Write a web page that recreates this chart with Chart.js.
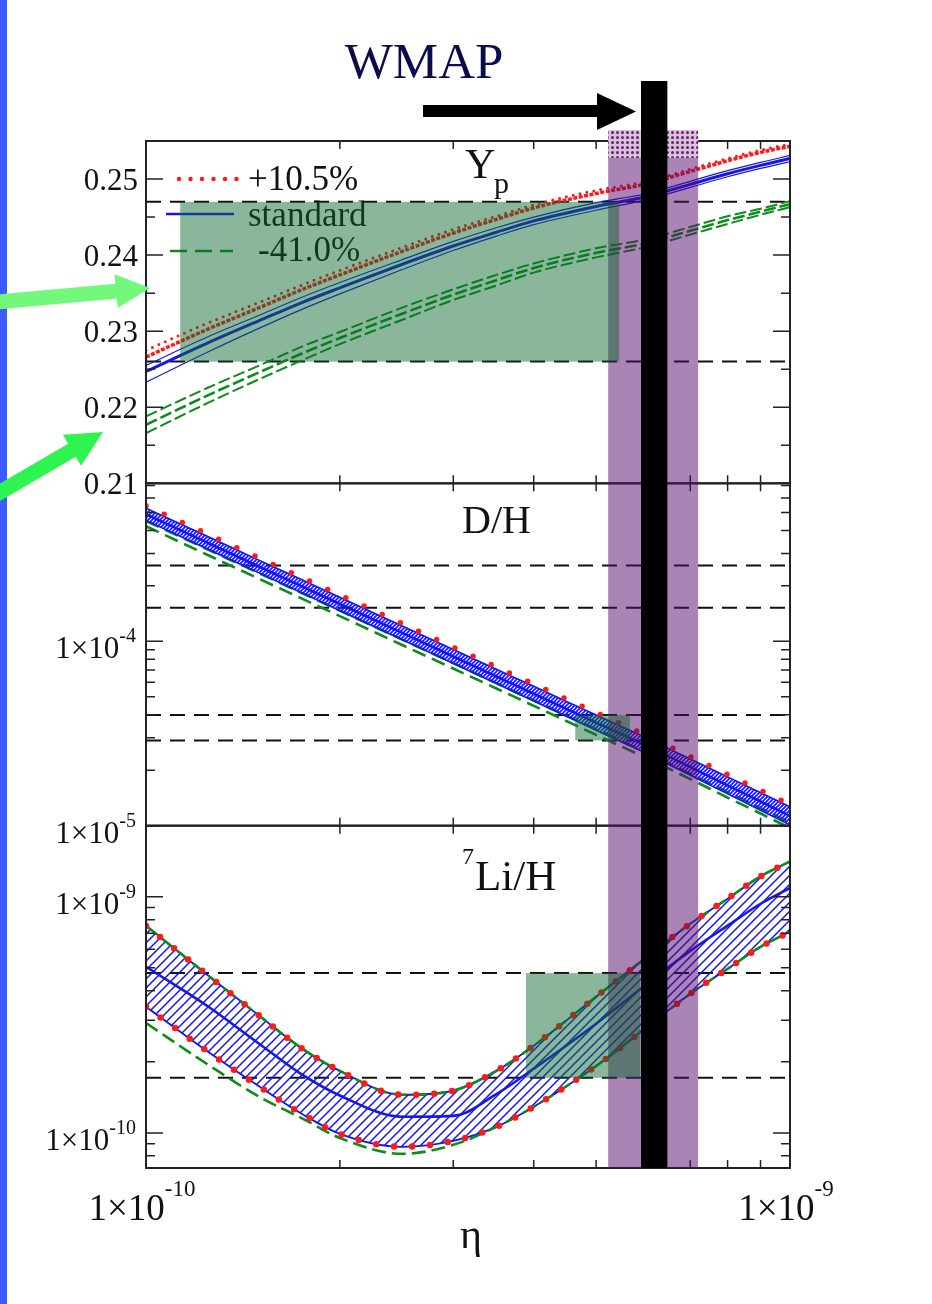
<!DOCTYPE html>
<html>
<head>
<meta charset="utf-8">
<script src="https://cdn.jsdelivr.net/npm/chart.js@4/dist/chart.umd.min.js"></script>
<style>
html, body { margin: 0; padding: 0; background: #fff; }
canvas { display: block; }
</style>
</head>
<body>
<canvas id="bbn" width="932" height="1304"></canvas>
<script>
// baryon-to-photon ratio grid
var eta = [1.0e-10, 1.25e-10, 1.5e-10, 1.75e-10, 2.0e-10, 2.5e-10, 3.0e-10, 3.5e-10, 4.0e-10, 5.0e-10, 6.0e-10, 7.0e-10, 8.0e-10, 9.0e-10, 1.0e-9];

// 4He mass fraction
var ypStd    = [0.2247, 0.2285, 0.2314, 0.2338, 0.2357, 0.2388, 0.2412, 0.2430, 0.2445, 0.2464, 0.2477, 0.2493, 0.2507, 0.2518, 0.2527];
var ypStdHi  = [0.2255, 0.2293, 0.2321, 0.2345, 0.2364, 0.2394, 0.2418, 0.2436, 0.2450, 0.2469, 0.2481, 0.2497, 0.2511, 0.2522, 0.2531];
var ypStdLo  = [0.2233, 0.2273, 0.2304, 0.2329, 0.2349, 0.2381, 0.2406, 0.2425, 0.2440, 0.2459, 0.2473, 0.2489, 0.2503, 0.2514, 0.2523];
var ypHigh   = [0.2266, 0.2303, 0.2331, 0.2355, 0.2374, 0.2405, 0.2429, 0.2447, 0.2462, 0.2481, 0.2494, 0.2510, 0.2524, 0.2535, 0.2543];
var ypHighUp = [0.2275, 0.2311, 0.2338, 0.2361, 0.2380, 0.2410, 0.2434, 0.2451, 0.2466, 0.2485, 0.2497, 0.2513, 0.2527, 0.2538, 0.2546];
var ypLow    = [0.2177, 0.2216, 0.2246, 0.2271, 0.2291, 0.2323, 0.2348, 0.2367, 0.2383, 0.2403, 0.2416, 0.2432, 0.2446, 0.2457, 0.2467];
var ypLowHi  = [0.2188, 0.2226, 0.2255, 0.2280, 0.2299, 0.2331, 0.2355, 0.2374, 0.2389, 0.2409, 0.2421, 0.2437, 0.2451, 0.2461, 0.2471];
var ypLowLo  = [0.2166, 0.2206, 0.2237, 0.2262, 0.2283, 0.2315, 0.2341, 0.2360, 0.2377, 0.2397, 0.2411, 0.2427, 0.2441, 0.2453, 0.2463];

// D/H
var dhStd   = [4.89e-4, 3.41e-4, 2.54e-4, 1.98e-4, 1.594e-4, 1.111e-4, 8.28e-5, 6.45e-5, 5.20e-5, 3.62e-5, 2.70e-5, 2.08e-5, 1.654e-5, 1.353e-5, 1.13e-5];
var dhHi    = [5.28e-4, 3.69e-4, 2.75e-4, 2.15e-4, 1.733e-4, 1.211e-4, 9.03e-5, 7.05e-5, 5.70e-5, 3.98e-5, 2.98e-5, 2.30e-5, 1.839e-5, 1.51e-5, 1.266e-5];
var dhLo    = [4.53e-4, 3.15e-4, 2.345e-4, 1.825e-4, 1.466e-4, 1.019e-4, 7.59e-5, 5.90e-5, 4.74e-5, 3.29e-5, 2.45e-5, 1.877e-5, 1.487e-5, 1.212e-5, 1.009e-5];
var dhHigh  = [5.44e-4, 3.80e-4, 2.83e-4, 2.21e-4, 1.785e-4, 1.247e-4, 9.30e-5, 7.26e-5, 5.87e-5, 4.10e-5, 3.07e-5, 2.37e-5, 1.894e-5, 1.555e-5, 1.304e-5];
var dhLowHi = [4.50e-4, 3.14e-4, 2.34e-4, 1.82e-4, 1.467e-4, 1.022e-4, 7.62e-5, 5.93e-5, 4.78e-5, 3.33e-5, 2.48e-5, 1.91e-5, 1.52e-5, 1.245e-5, 1.04e-5];
var dhLowLo = [4.21e-4, 2.93e-4, 2.18e-4, 1.70e-4, 1.371e-4, 9.55e-5, 7.12e-5, 5.55e-5, 4.47e-5, 3.11e-5, 2.32e-5, 1.79e-5, 1.42e-5, 1.164e-5, 9.7e-6];

// 7Li/H
var liStd   = [5.05e-10, 3.42e-10, 2.38e-10, 1.76e-10, 1.44e-10, 1.17e-10, 1.18e-10, 1.46e-10, 1.87e-10, 2.90e-10, 4.28e-10, 5.90e-10, 7.54e-10, 9.34e-10, 1.09e-9];
var liHi    = [7.54e-10, 4.63e-10, 3.13e-10, 2.27e-10, 1.83e-10, 1.45e-10, 1.51e-10, 1.83e-10, 2.34e-10, 3.77e-10, 5.57e-10, 7.68e-10, 9.81e-10, 1.22e-9, 1.41e-9];
var liLo    = [3.42e-10, 2.20e-10, 1.57e-10, 1.20e-10, 9.90e-11, 8.73e-11, 9.25e-11, 1.06e-10, 1.29e-10, 1.92e-10, 2.81e-10, 3.88e-10, 4.95e-10, 6.14e-10, 7.11e-10];
var liLowLo = [2.92e-10, 1.94e-10, 1.42e-10, 1.15e-10, 9.52e-11, 8.15e-11, 8.90e-11, 1.06e-10, 1.29e-10, 1.92e-10, 2.81e-10, 3.88e-10, 4.95e-10, 6.14e-10, 7.11e-10];

// observed abundances (dashed lines) and boxes
var ypObs = [0.226, 0.247];
var dhObs = [2.90e-5, 3.98e-5, 1.52e-4, 2.58e-4];
var liObs = [1.71e-10, 4.75e-10];
var ypBox = {eta: [1.13e-10, 5.43e-10], y: [0.226, 0.247]};
var dhBox = {eta: [4.64e-10, 5.64e-10], y: [2.90e-5, 3.98e-5]};
var liBox = {eta: [3.89e-10, 5.85e-10], y: [1.71e-10, 4.75e-10]};
var wmapBand = [5.22e-10, 7.20e-10];
var wmapLine = [5.87e-10, 6.45e-10];

// ticks
var ypMajor = [0.21, 0.22, 0.23, 0.24, 0.25];
var ypLabels = ['0.21', '0.22', '0.23', '0.24', '0.25'];
var ypMinor = [0.215, 0.225, 0.235, 0.245];
var dhMajor = [1e-5, 1e-4];
var dhExp = ['-5', '-4'];
var dhMinor = [2e-5, 3e-5, 4e-5, 5e-5, 6e-5, 7e-5, 8e-5, 9e-5, 2e-4, 3e-4, 4e-4, 5e-4, 6e-4, 7e-4];
var liMajor = [1e-10, 1e-9];
var liExp = ['-10', '-9'];
var liMinor = [8e-11, 9e-11, 2e-10, 3e-10, 4e-10, 5e-10, 6e-10, 7e-10, 8e-10, 9e-10, 2e-9];
var etaMajor = [1e-10, 1e-9];
var etaExp = ['-10', '-9'];
var etaMinor = [2e-10, 3e-10, 4e-10, 5e-10, 6e-10, 7e-10, 8e-10, 9e-10];
var legendLabels = ['+10.5%', 'standard', '-41.0%'];

var RED = '#ff1a1a', BLUE = '#1616e8', GREEN = '#0c8c18';
var SERIF = '"Liberation Serif", "Times New Roman", serif';

function hatch(color, gap, width) {
	var c = document.createElement('canvas')
	c.width = gap; c.height = gap
	var g = c.getContext('2d')
	g.strokeStyle = color
	g.lineWidth = width
	g.beginPath()
	g.moveTo(-gap, gap * 2); g.lineTo(gap * 2, -gap)
	g.moveTo(-gap, gap); g.lineTo(gap, -gap)
	g.moveTo(0, gap * 2); g.lineTo(gap * 2, 0)
	g.stroke()
	return g.createPattern(c, 'repeat')
}

function dotPattern() {
	var c = document.createElement('canvas')
	c.width = 5; c.height = 5
	var g = c.getContext('2d')
	g.fillStyle = '#d7c3da'
	g.fillRect(0, 0, 5, 5)
	g.fillStyle = '#6b2170'
	g.beginPath()
	g.arc(2.5, 2.5, 1.5, 0, Math.PI * 2)
	g.fill()
	return g.createPattern(c, 'repeat')
}

function curve(ys, axis, color, width, dash, extra) {
	var d = {
		data: eta.map(function(e, i) { return {x: e, y: ys[i]} }),
		yAxisID: axis,
		borderColor: color,
		borderWidth: width,
		borderDash: dash || [],
		borderCapStyle: 'butt',
		pointRadius: 0,
		fill: false,
		cubicInterpolationMode: 'monotone'
	}
	for (var k in extra) d[k] = extra[k]
	return d
}

var round = {borderCapStyle: 'round'}

var datasets = [
	// Li panel
	curve(liHi, 'li', RED, 6.5, [0, 18], round),
	curve(liLo, 'li', RED, 6.5, [0, 18], round),
	curve(liHi, 'li', GREEN, 2.6, [14, 6]),
	curve(liLowLo, 'li', GREEN, 2.6, [14, 6]),
	curve(liStd, 'li', BLUE, 2.6),
	curve(liHi, 'li', BLUE, 1.8, [], {fill: '+1', backgroundColor: hatch(BLUE, 9, 1.5)}),
	curve(liLo, 'li', BLUE, 1.8),
	// D/H panel
	curve(dhHigh, 'dh', RED, 5.5, [0, 20], round),
	curve(dhStd, 'dh', BLUE, 2.6),
	curve(dhHi, 'dh', BLUE, 1.6, [], {fill: '+1', backgroundColor: hatch(BLUE, 4, 1.6)}),
	curve(dhLo, 'dh', BLUE, 1.6),
	curve(dhLowHi, 'dh', GREEN, 2.6, [14, 7]),
	curve(dhLowLo, 'dh', GREEN, 2.6, [14, 7]),
	// Yp panel
	curve(ypHigh, 'yp', RED, 3.5, [4, 1.5]),
	curve(ypHighUp, 'yp', RED, 3, [0, 7], round),
	curve(ypStd, 'yp', BLUE, 3),
	curve(ypStdHi, 'yp', BLUE, 1.2),
	curve(ypStdLo, 'yp', BLUE, 1.2),
	curve(ypLow, 'yp', GREEN, 2.6, [12, 4]),
	curve(ypLowHi, 'yp', GREEN, 2, [12, 4]),
	curve(ypLowLo, 'yp', GREEN, 2, [12, 4])
]

function hline(ctx, area, y) {
	ctx.beginPath()
	ctx.moveTo(area.left, y)
	ctx.lineTo(area.right, y)
	ctx.stroke()
}

function box(ctx, xs, sc, b) {
	var x0 = xs.getPixelForValue(b.eta[0]), x1 = xs.getPixelForValue(b.eta[1])
	var y0 = sc.getPixelForValue(b.y[1]), y1 = sc.getPixelForValue(b.y[0])
	ctx.fillStyle = 'rgba(10, 105, 45, 0.48)'
	ctx.fillRect(x0, y0, x1 - x0, y1 - y0)
}

function frame(ctx, area, xs, sc, major, minor) {
	ctx.strokeStyle = '#222'
	ctx.lineWidth = 2
	ctx.setLineDash([])
	ctx.strokeRect(area.left, sc.top, area.right - area.left, sc.bottom - sc.top)
	ctx.lineWidth = 1.5
	ctx.beginPath()
	major.forEach(function(v) {
		var y = sc.getPixelForValue(v)
		ctx.moveTo(area.left, y); ctx.lineTo(area.left + 17, y)
		ctx.moveTo(area.right, y); ctx.lineTo(area.right - 17, y)
	})
	minor.forEach(function(v) {
		var y = sc.getPixelForValue(v)
		ctx.moveTo(area.left, y); ctx.lineTo(area.left + 9, y)
		ctx.moveTo(area.right, y); ctx.lineTo(area.right - 9, y)
	})
	etaMinor.forEach(function(v) {
		var x = xs.getPixelForValue(v)
		ctx.moveTo(x, sc.top); ctx.lineTo(x, sc.top + 8)
		ctx.moveTo(x, sc.bottom); ctx.lineTo(x, sc.bottom - 8)
	})
	ctx.stroke()
}

function powLabel(ctx, exp, x, y, size, expSize, rise, align) {
	ctx.textAlign = 'left'
	ctx.font = size + 'px ' + SERIF
	var wBase = ctx.measureText('1×10').width
	ctx.font = expSize + 'px ' + SERIF
	var wExp = ctx.measureText(exp).width
	var x0 = align === 'right' ? x - wBase - wExp : x - (wBase + wExp) / 2
	ctx.font = size + 'px ' + SERIF
	ctx.fillText('1×10', x0, y)
	ctx.font = expSize + 'px ' + SERIF
	ctx.fillText(exp, x0 + wBase, y - rise)
}

function arrow(ctx, x0, y0, x1, y1, shaft, headW, headL, color) {
	var dx = x1 - x0, dy = y1 - y0, len = Math.hypot(dx, dy)
	var ux = dx / len, uy = dy / len, nx = -uy, ny = ux
	var bx = x1 - ux * headL, by = y1 - uy * headL
	ctx.fillStyle = color
	ctx.beginPath()
	ctx.moveTo(x0 + nx * shaft / 2, y0 + ny * shaft / 2)
	ctx.lineTo(bx + nx * shaft / 2, by + ny * shaft / 2)
	ctx.lineTo(bx + nx * headW / 2, by + ny * headW / 2)
	ctx.lineTo(x1, y1)
	ctx.lineTo(bx - nx * headW / 2, by - ny * headW / 2)
	ctx.lineTo(bx - nx * shaft / 2, by - ny * shaft / 2)
	ctx.lineTo(x0 - nx * shaft / 2, y0 - ny * shaft / 2)
	ctx.closePath()
	ctx.fill()
}

var panels = {
	id: 'panels',
	// keep each curve inside its own panel
	beforeDatasetDraw: function(chart, args) {
		var sc = chart.scales[args.meta.yAxisID], a = chart.chartArea, ctx = chart.ctx
		ctx.save()
		ctx.beginPath()
		ctx.rect(a.left, sc.top, a.right - a.left, sc.bottom - sc.top)
		ctx.clip()
	},
	afterDatasetDraw: function(chart) {
		chart.ctx.restore()
	},
	beforeDatasetsDraw: function(chart) {
		var ctx = chart.ctx, a = chart.chartArea, s = chart.scales
		ctx.save()
		ctx.strokeStyle = '#111'
		ctx.lineWidth = 2
		ctx.setLineDash([15, 9])
		ypObs.forEach(function(v) { hline(ctx, a, s.yp.getPixelForValue(v)) })
		dhObs.forEach(function(v) { hline(ctx, a, s.dh.getPixelForValue(v)) })
		liObs.forEach(function(v) { hline(ctx, a, s.li.getPixelForValue(v)) })
		ctx.restore()
	},
	afterDatasetsDraw: function(chart) {
		var ctx = chart.ctx, a = chart.chartArea, s = chart.scales, xs = s.x
		ctx.save()

		// legend
		ctx.lineWidth = 4.5
		ctx.lineCap = 'round'
		ctx.strokeStyle = RED
		ctx.setLineDash([0, 11.5])
		ctx.beginPath(); ctx.moveTo(179, 179); ctx.lineTo(247, 179); ctx.stroke()
		ctx.lineCap = 'butt'
		ctx.lineWidth = 2.4
		ctx.strokeStyle = BLUE
		ctx.setLineDash([])
		ctx.beginPath(); ctx.moveTo(166, 214); ctx.lineTo(234, 214); ctx.stroke()
		ctx.strokeStyle = GREEN
		ctx.setLineDash([17, 8])
		ctx.beginPath(); ctx.moveTo(170, 251); ctx.lineTo(233, 251); ctx.stroke()
		ctx.setLineDash([])
		ctx.fillStyle = '#111'
		ctx.textAlign = 'left'
		ctx.font = '35px ' + SERIF
		ctx.fillText(legendLabels[0], 248, 190)
		ctx.fillText(legendLabels[1], 248, 226)
		ctx.fillText(legendLabels[2], 258, 261)

		// panel frames and ticks
		frame(ctx, a, xs, s.yp, ypMajor, ypMinor)
		frame(ctx, a, xs, s.dh, dhMajor, dhMinor)
		frame(ctx, a, xs, s.li, liMajor, liMinor)

		// WMAP band
		var bx0 = xs.getPixelForValue(wmapBand[0]), bx1 = xs.getPixelForValue(wmapBand[1])
		ctx.fillStyle = 'rgba(85, 10, 105, 0.5)'
		ctx.fillRect(bx0, a.top, bx1 - bx0, a.bottom - a.top)
		ctx.fillStyle = dotPattern()
		ctx.fillRect(bx0, 130, bx1 - bx0, 28)

		// observational boxes
		box(ctx, xs, s.yp, ypBox)
		box(ctx, xs, s.dh, dhBox)
		box(ctx, xs, s.li, liBox)

		// panel titles
		ctx.fillStyle = '#111'
		ctx.font = '42px ' + SERIF
		ctx.fillText('Y', 465, 178)
		ctx.font = '30px ' + SERIF
		ctx.fillText('p', 494, 193)
		ctx.font = '40px ' + SERIF
		ctx.fillText('D/H', 462, 533)
		ctx.font = '24px ' + SERIF
		ctx.fillText('7', 462, 864)
		ctx.font = '43px ' + SERIF
		ctx.fillText('Li/H', 475, 890)

		// tick labels
		ctx.textAlign = 'right'
		ctx.font = '31px ' + SERIF
		ypMajor.forEach(function(v, i) {
			ctx.fillText(ypLabels[i], 138, s.yp.getPixelForValue(v) + 11)
		})
		dhMajor.forEach(function(v, i) {
			var y = s.dh.getPixelForValue(v)
			powLabel(ctx, dhExp[i], 136, y + 17, 31, 20, 16, 'right')
		})
		liMajor.forEach(function(v, i) {
			var y = s.li.getPixelForValue(v)
			powLabel(ctx, liExp[i], 136, y + 17, 31, 20, 16, 'right')
		})
		etaMajor.forEach(function(v, i) {
			powLabel(ctx, etaExp[i], xs.getPixelForValue(v) - 4, 1220, 37, 23, 24, 'center')
		})
		ctx.textAlign = 'center'
		ctx.font = '42px ' + SERIF
		ctx.fillText('η', 471, 1248)

		// WMAP value
		var lx0 = xs.getPixelForValue(wmapLine[0]), lx1 = xs.getPixelForValue(wmapLine[1])
		ctx.fillStyle = '#000'
		ctx.fillRect(lx0, 81, lx1 - lx0, a.bottom - 81)
		ctx.fillRect(423, 105, 176, 12)
		ctx.beginPath()
		ctx.moveTo(597, 93); ctx.lineTo(597, 130); ctx.lineTo(lx0 - 5, 111.5)
		ctx.closePath(); ctx.fill()
		ctx.fillStyle = '#0c0c4c'
		ctx.font = '51px ' + SERIF
		ctx.fillText('WMAP', 424, 78)

		// side stripe and pointers
		ctx.fillStyle = '#3a5cff'
		ctx.fillRect(0, 0, 7, 1304)
		arrow(ctx, -2, 302, 150, 288, 15, 34, 34, '#72f97c')
		arrow(ctx, -8, 497, 103, 432, 15, 36, 36, '#2df44f')
		ctx.restore()
	}
}

var chart = new Chart(document.getElementById('bbn'), {
	type: 'line',
	data: {datasets: datasets},
	options: {
		responsive: false,
		animation: false,
		devicePixelRatio: 1,
		layout: {padding: {left: 146, right: 142, top: 141, bottom: 136}},
		plugins: {legend: {display: false}, tooltip: {enabled: false}},
		scales: {
			x: {type: 'logarithmic', min: 1e-10, max: 1e-9, display: false},
			li: {type: 'logarithmic', min: 7.1e-11, max: 2.0e-9, position: 'left', stack: 'nuc', stackWeight: 1, display: false},
			dh: {type: 'logarithmic', min: 1e-5, max: 7.2e-4, position: 'left', stack: 'nuc', stackWeight: 1, display: false},
			yp: {type: 'linear', min: 0.21, max: 0.255, position: 'left', stack: 'nuc', stackWeight: 1, display: false}
		}
	},
	plugins: [panels]
});
</script>
</body>
</html>
